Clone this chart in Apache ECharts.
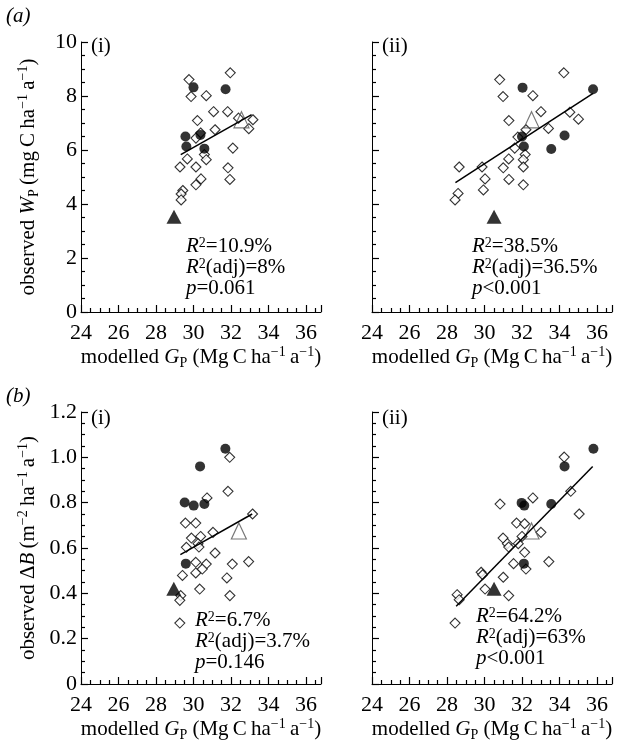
<!DOCTYPE html>
<html><head><meta charset="utf-8">
<script src="https://cdn.jsdelivr.net/npm/echarts@6/dist/echarts.min.js"></script>
<style>html,body{margin:0;padding:0;background:#fff}#c{width:623px;height:749px}</style>
</head><body><div id="c"></div><script>
// ---------- data ----------
const xTickVals = [24, 26, 28, 30, 32, 34, 36];
const yTicksWp = [0, 2, 4, 6, 8, 10];
const yTicksB = [0, 0.2, 0.4, 0.6, 0.8, 1.0, 1.2];

// (a)(i) observed Wp vs modelled Gp (model i)
const aiDiamonds = [[29.76,8.61],[29.87,7.98],[31.96,8.86],[30.68,8.01],[31.07,7.42],[31.82,7.42],[30.21,7.09],[32.40,7.18],[33.17,7.12],[32.95,6.79],[31.15,6.75],[30.38,6.63],[30.13,6.44],[32.10,6.07],[30.58,5.83],[29.67,5.67],[30.68,5.64],[29.28,5.37],[30.13,5.37],[31.84,5.34],[30.40,4.93],[30.13,4.71],[31.94,4.91],[29.43,4.50],[29.34,4.37],[29.34,4.15]];
const aiCircles = [[30.00,8.32],[31.71,8.25],[29.57,6.50],[29.62,6.13],[30.37,6.56],[30.58,6.05]];
const aiFilledTri = [[28.96,3.53]];
const aiOpenTri = [[32.56,7.12]];
const aiFit = [[29.32,5.83],[33.10,7.31]];
const aiStats = ['=10.9%', '(adj)=8%', '=0.061'];

// (a)(ii)
const aiiDiamonds = [[30.81,8.61],[34.23,8.86],[30.99,7.98],[32.58,8.01],[33.01,7.42],[31.30,7.09],[34.55,7.40],[35.01,7.14],[33.41,6.80],[32.21,6.75],[31.78,6.48],[31.61,6.07],[32.17,5.83],[31.29,5.67],[32.07,5.64],[28.65,5.37],[29.87,5.37],[31.00,5.34],[32.07,5.37],[30.03,4.93],[31.30,4.91],[32.07,4.71],[29.94,4.52],[28.59,4.39],[28.43,4.15]];
const aiiCircles = [[32.03,8.31],[35.79,8.25],[32.00,6.50],[32.10,6.13],[34.27,6.54],[33.56,6.04]];
const aiiFilledTri = [[30.51,3.53]];
const aiiOpenTri = [[32.51,7.12]];
const aiiFit = [[28.45,4.79],[35.79,8.10]];
const aiiStats = ['=38.5%', '(adj)=36.5%', '<0.001'];

// (b)(i) observed dB vs modelled Gp
const biDiamonds = [[31.93,1.000],[31.84,0.850],[30.72,0.821],[33.15,0.750],[29.57,0.710],[30.12,0.710],[31.04,0.669],[29.89,0.644],[30.38,0.651],[30.24,0.619],[29.62,0.603],[30.29,0.604],[31.15,0.578],[30.12,0.537],[30.68,0.529],[32.94,0.540],[32.07,0.529],[30.12,0.490],[30.47,0.507],[29.41,0.479],[31.78,0.468],[30.33,0.419],[31.94,0.390],[29.32,0.390],[29.27,0.369],[29.27,0.269]];
const biCircles = [[31.70,1.038],[30.35,0.960],[29.53,0.801],[30.01,0.787],[30.58,0.794],[29.59,0.531]];
const biFilledTri = [[28.95,0.42]];
const biOpenTri = [[32.42,0.675]];
const biFit = [[29.30,0.571],[33.13,0.750]];
const biStats = ['=6.7%', '(adj)=3.7%', '=0.146'];

// (b)(ii)
const biiDiamonds = [[34.25,1.001],[34.60,0.850],[32.58,0.821],[30.83,0.794],[35.05,0.750],[31.71,0.710],[32.14,0.707],[33.01,0.669],[30.99,0.644],[32.00,0.651],[31.22,0.619],[31.29,0.604],[31.80,0.619],[32.14,0.581],[33.43,0.540],[31.55,0.531],[32.21,0.507],[31.00,0.471],[29.82,0.493],[29.90,0.482],[30.03,0.419],[31.29,0.390],[28.54,0.394],[28.65,0.372],[28.43,0.269]];
const biiCircles = [[35.81,1.038],[34.27,0.960],[31.98,0.799],[32.12,0.787],[33.56,0.794],[32.10,0.531]];
const biiFilledTri = [[30.51,0.42]];
const biiOpenTri = [[32.51,0.675]];
const biiFit = [[28.49,0.343],[35.77,0.960]];
const biiStats = ['=64.2%', '(adj)=63%', '<0.001'];

// ---------- styling ----------
const FONT = 'Liberation Serif';
const rich = {
  n: {fontFamily: FONT, fontSize: 21, color: '#000', lineHeight: 25},
  i: {fontFamily: FONT, fontSize: 21, fontStyle: 'italic', color: '#000', lineHeight: 25},
  sup: {fontFamily: FONT, fontSize: 14, color: '#000', lineHeight: 15, verticalAlign: 'top'},
  sub: {fontFamily: FONT, fontSize: 14, color: '#000', lineHeight: 13, verticalAlign: 'bottom'}
};
const richStat = {
  n: {fontFamily: FONT, fontSize: 21, color: '#000', lineHeight: 21},
  i: {fontFamily: FONT, fontSize: 21, fontStyle: 'italic', color: '#000', lineHeight: 21},
  sup: {fontFamily: FONT, fontSize: 14, color: '#000', lineHeight: 13, verticalAlign: 'top'}
};
const xName = '{n|modelled }{i|G}{sub|P}{n| (Mg\u2009C\u2009ha}{sup|−1}{n|\u2009a}{sup|−1}{n|)}';
const yNameA = '{n|observed }{i|W}{sub|P}{n|\u2009(mg\u2009C\u2009ha}{sup|−1}{n|\u2009a}{sup|−1}{n|)}';
const yNameB = '{n|observed Δ}{i|B}{n|\u2009(m}{sup|−2}{n|\u2009ha}{sup|−1}{n|\u2009a}{sup|−1}{n|)}';

const grids = [
  {left: 81, top: 42, width: 240, height: 270},
  {left: 372, top: 42, width: 240, height: 270},
  {left: 81, top: 412, width: 240, height: 272},
  {left: 372, top: 412, width: 240, height: 272}
];

function xAx(gi) {
  return {
    gridIndex: gi, type: 'value', min: xTickVals[0], max: 36.8, interval: 2,
    axisLine: {show: true, onZero: false, lineStyle: {color: '#000', width: 1}},
    axisTick: {show: true, inside: true, length: 7, lineStyle: {color: '#000', width: 1.2}},
    minorTick: {show: true, splitNumber: 4, length: 4, lineStyle: {color: '#000', width: 1.2}},
    axisLabel: {showMaxLabel: false, color: '#000', fontFamily: FONT, fontSize: 22, margin: 10,
      formatter: v => (xTickVals.indexOf(v) >= 0 ? String(v) : '')},
    splitLine: {show: false},
    name: xName, nameLocation: 'middle', nameGap: 31,
    nameTextStyle: {rich: rich}
  };
}
function yAx(gi, isB, showName) {
  const t = isB ? yTicksB : yTicksWp;
  return {
    gridIndex: gi, type: 'value', min: t[0], max: t[t.length - 1], interval: t[1] - t[0],
    axisLine: {show: true, onZero: false, lineStyle: {color: '#000', width: 1}},
    axisTick: {show: true, inside: true, length: 7, lineStyle: {color: '#000', width: 1.2}},
    minorTick: {show: true, splitNumber: 4, length: 4, lineStyle: {color: '#000', width: 1.2}},
    axisLabel: {
      show: showName, color: '#000', fontFamily: FONT, fontSize: 22, margin: 4,
      formatter: v => (isB ? (Math.abs(v) < 1e-9 ? '0' : v.toFixed(1)) : String(Math.round(v)))
    },
    splitLine: {show: false},
    name: showName ? (isB ? yNameB : yNameA) : '',
    nameLocation: 'middle', nameRotate: 90, nameGap: 40,
    nameTextStyle: {rich: rich}
  };
}

function panelSeries(gi, diamonds, circles, fTri, oTri, fit) {
  return [
    {type: 'scatter', xAxisIndex: gi, yAxisIndex: gi, data: diamonds, symbol: 'diamond', symbolSize: 10,
      itemStyle: {color: '#fff', borderColor: '#000', borderWidth: 1.1}, z: 2, silent: true},
    {type: 'scatter', xAxisIndex: gi, yAxisIndex: gi, data: circles, symbol: 'circle', symbolSize: 10,
      itemStyle: {color: '#000'}, z: 3, silent: true},
    {type: 'scatter', xAxisIndex: gi, yAxisIndex: gi, data: fTri, symbol: 'triangle', symbolSize: [15, 14],
      itemStyle: {color: '#000'}, z: 4, silent: true},
    {type: 'scatter', xAxisIndex: gi, yAxisIndex: gi, data: oTri, symbol: 'triangle', symbolSize: [15, 16],
      itemStyle: {color: 'transparent', borderColor: '#555', borderWidth: 1.2}, z: 4, silent: true},
    {type: 'line', xAxisIndex: gi, yAxisIndex: gi, data: fit, symbol: 'none',
      lineStyle: {color: '#000', width: 1.5}, z: 5, silent: true}
  ];
}

function statText(left, top, s) {
  return {
    type: 'text', left: left, top: top, z: 10,
    style: {
      text: '{i|R}{sup|2}{n|' + s[0] + '}\n{i|R}{sup|2}{n|' + s[1] + '}\n{i|p}{n|' + s[2] + '}',
      rich: richStat
    }
  };
}
function label(left, top, txt, italic) {
  return {type: 'text', left: left, top: top, z: 10,
    style: {text: txt, fontFamily: FONT, fontSize: 21, fontStyle: italic ? 'italic' : 'normal', fill: '#000'}};
}

const chart = echarts.init(document.getElementById('c'), null, {renderer: 'canvas'});
chart.setOption({
  backgroundColor: '#fff',
  animation: false,
  grid: grids,
  xAxis: [xAx(0), xAx(1), xAx(2), xAx(3)],
  yAxis: [yAx(0, false, true), yAx(1, false, false), yAx(2, true, true), yAx(3, true, false)],
  series: [].concat(
    panelSeries(0, aiDiamonds, aiCircles, aiFilledTri, aiOpenTri, aiFit),
    panelSeries(1, aiiDiamonds, aiiCircles, aiiFilledTri, aiiOpenTri, aiiFit),
    panelSeries(2, biDiamonds, biCircles, biFilledTri, biOpenTri, biFit),
    panelSeries(3, biiDiamonds, biiCircles, biiFilledTri, biiOpenTri, biiFit)
  ),
  graphic: [
    label(6, 6, '(a)', true),
    label(6, 386, '(b)', true),
    label(91, 36, '(i)', false),
    label(382, 36, '(ii)', false),
    label(91, 408, '(i)', false),
    label(382, 408, '(ii)', false),
    statText(186, 236, aiStats),
    statText(472, 236, aiiStats),
    statText(195, 610, biStats),
    statText(476, 606, biiStats)
  ]
});
</script></body></html>
